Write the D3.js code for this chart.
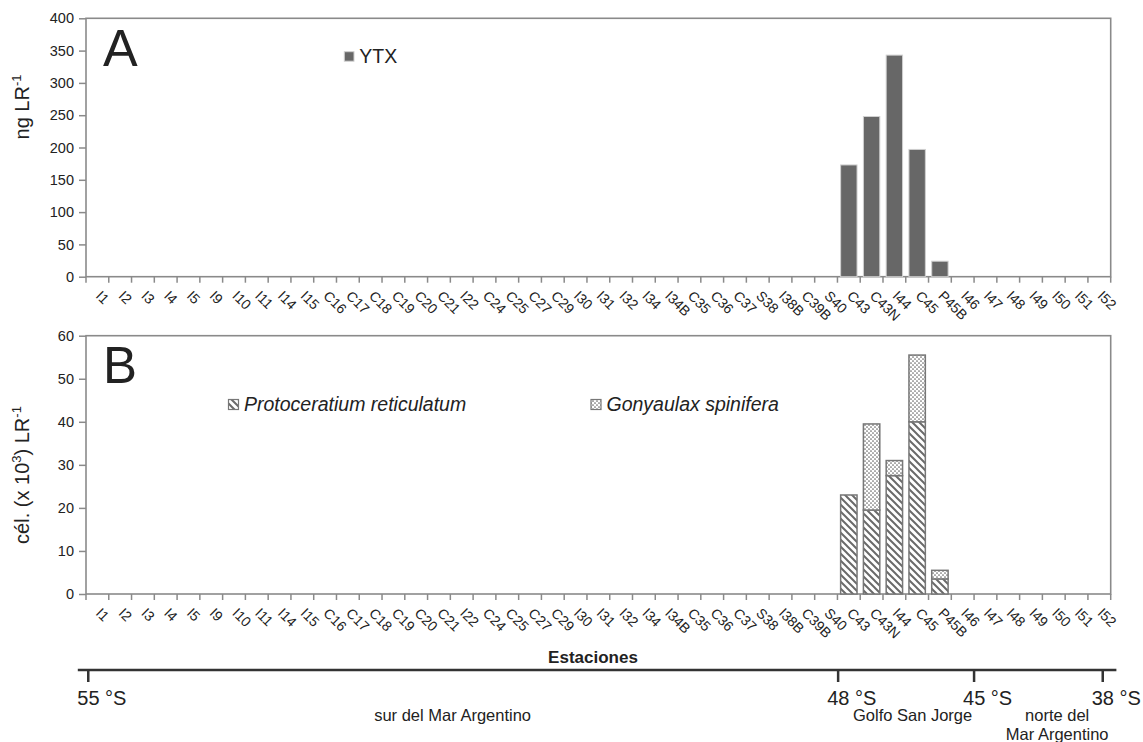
<!DOCTYPE html>
<html>
<head>
<meta charset="utf-8">
<script src="https://cdn.jsdelivr.net/npm/d3@7"></script>
<style>
  body { margin: 0; background: #fff; }
  svg { font-family: "Liberation Sans", Arial, sans-serif; }
</style>
</head>
<body>
<svg id="chart" width="1143" height="742"></svg>
<script>
// stations along the coast, south to north
const stations = ['I1', 'I2', 'I3', 'I4', 'I5', 'I9', 'I10', 'I11', 'I14', 'I15',
  'C16', 'C17', 'C18', 'C19', 'C20', 'C21', 'I22', 'C24', 'C25', 'C27',
  'C29', 'I30', 'I31', 'I32', 'I34', 'I34B', 'C35', 'C36', 'C37', 'S38',
  'I38B', 'C39B', 'S40', 'C43', 'C43N', 'I44', 'C45', 'P45B', 'I46', 'I47',
  'I48', 'I49', 'I50', 'I51', 'I52'];

// panel A: YTX (ng LR-1)
const ytx = [0, 0, 0, 0, 0, 0, 0, 0, 0, 0,
  0, 0, 0, 0, 0, 0, 0, 0, 0, 0,
  0, 0, 0, 0, 0, 0, 0, 0, 0, 0,
  0, 0, 0, 173, 248, 343, 197, 24, 0, 0,
  0, 0, 0, 0, 0];

// panel B: cells (x 10^3) LR-1
const proto = [0, 0, 0, 0, 0, 0, 0, 0, 0, 0,
  0, 0, 0, 0, 0, 0, 0, 0, 0, 0,
  0, 0, 0, 0, 0, 0, 0, 0, 0, 0,
  0, 0, 0, 23, 19.5, 27.5, 40, 3.5, 0, 0,
  0, 0, 0, 0, 0];
const gony = [0, 0, 0, 0, 0, 0, 0, 0, 0, 0,
  0, 0, 0, 0, 0, 0, 0, 0, 0, 0,
  0, 0, 0, 0, 0, 0, 0, 0, 0, 0,
  0, 0, 0, 0, 20, 3.5, 15.5, 2, 0, 0,
  0, 0, 0, 0, 0];

const ytxTicks = [0, 50, 100, 150, 200, 250, 300, 350, 400];
const celTicks = [0, 10, 20, 30, 40, 50, 60];

// latitude bar under the chart, positions given in station units
const latTicks = [
  {label: '55 °S', at: 0.1},
  {label: '48 °S', at: 33.03},
  {label: '45 °S', at: 39.0},
  {label: '38 °S', at: 44.65}
];
const regions = [
  {lines: ['sur del Mar Argentino'], at: 16.1},
  {lines: ['Golfo San Jorge'], at: 36.3},
  {lines: ['norte del', 'Mar Argentino'], at: 42.65}
];

const svg = d3.select('#chart');
const left = 86, right = 1110.7;
const axisColor = '#8a8a8a';
const textColor = '#222';

const x = d3.scaleBand()
  .domain(stations)
  .range([left, right])
  .paddingInner(0.28)
  .paddingOuter(0.14);
const xPos = d3.scaleLinear().domain([0, stations.length]).range([left, right]);

// fill patterns
const defs = svg.append('defs');
const hatch = defs.append('pattern')
  .attr('id', 'hatch')
  .attr('patternUnits', 'userSpaceOnUse')
  .attr('width', 7).attr('height', 7);
hatch.append('rect').attr('width', 7).attr('height', 7).attr('fill', '#fff');
hatch.append('path')
  .attr('d', 'M0,0L7,7M-3.5,3.5L3.5,10.5M3.5,-3.5L10.5,3.5')
  .attr('stroke', '#6a6a6a')
  .attr('stroke-width', 2);

const dots = defs.append('pattern')
  .attr('id', 'dots')
  .attr('patternUnits', 'userSpaceOnUse')
  .attr('width', 4).attr('height', 4);
dots.append('rect').attr('width', 4).attr('height', 4).attr('fill', '#fff');
dots.append('circle').attr('cx', 1).attr('cy', 1).attr('r', 0.85).attr('fill', '#6a6a6a');
dots.append('circle').attr('cx', 3).attr('cy', 3).attr('r', 0.85).attr('fill', '#6a6a6a');

function drawFrame(y, top, bottom, ticks) {
  const g = svg.append('g');

  const yAxis = g.append('g')
    .attr('transform', `translate(${left},0)`)
    .call(d3.axisLeft(y).tickValues(ticks).tickSize(7).tickSizeOuter(0).tickPadding(5));
  yAxis.select('.domain').remove();
  yAxis.selectAll('line').attr('stroke', axisColor).attr('stroke-width', 1.5);
  yAxis.selectAll('text').attr('fill', textColor).style('font-size', '14.5px')
    .style('font-family', '"Liberation Sans", Arial, sans-serif');

  // plot box
  g.append('rect')
    .attr('x', left).attr('y', top)
    .attr('width', right - left).attr('height', bottom - top)
    .attr('fill', 'none')
    .attr('stroke', axisColor)
    .attr('stroke-width', 1.6);

  // ticks between stations
  const bounds = d3.range(stations.length + 1);
  g.selectAll('.xtick')
    .data(bounds)
    .enter()
    .append('line')
    .attr('x1', d => xPos(d)).attr('x2', d => xPos(d))
    .attr('y1', bottom).attr('y2', bottom + 6)
    .attr('stroke', axisColor)
    .attr('stroke-width', 1.5);

  g.selectAll('.xlab')
    .data(stations)
    .enter()
    .append('text')
    .attr('transform', d => `translate(${x(d) + x.bandwidth() / 2 - 2.5},${bottom + 20}) rotate(45)`)
    .attr('fill', textColor)
    .style('font-size', '14px')
    .text(d => d);

  return g;
}

function yTitle(cx, cy, parts) {
  const t = svg.append('text')
    .attr('transform', `translate(${cx},${cy}) rotate(-90)`)
    .attr('text-anchor', 'middle')
    .attr('fill', textColor)
    .style('font-size', '20px');
  parts.forEach(p => {
    t.append('tspan')
      .attr('dy', p.sup ? -8 : (p.after ? 8 : 0))
      .style('font-size', p.sup ? '13px' : '20px')
      .text(p.text);
  });
}

// ---------- panel A ----------
const topA = 18.3, bottomA = 276.7;
const yA = d3.scaleLinear().domain([0, 400]).range([bottomA, topA]);
drawFrame(yA, topA, bottomA, ytxTicks);

svg.append('g')
  .selectAll('rect')
  .data(stations.map((s, i) => ({s, v: ytx[i]})).filter(d => d.v > 0))
  .enter()
  .append('rect')
  .attr('x', d => x(d.s))
  .attr('y', d => yA(d.v))
  .attr('width', x.bandwidth())
  .attr('height', d => yA(0) - yA(d.v))
  .attr('fill', '#676767')
  .attr('stroke', '#d0d0d0')
  .attr('stroke-width', 1);

svg.append('text').attr('x', 103).attr('y', 66)
  .attr('fill', textColor).style('font-size', '52px').text('A');

svg.append('rect').attr('x', 344.3).attr('y', 51.7).attr('width', 9.7).attr('height', 9.5)
  .attr('fill', '#676767').attr('stroke', '#d0d0d0');
svg.append('text').attr('x', 359.3).attr('y', 63.3)
  .attr('fill', textColor).style('font-size', '19.5px').text('YTX');

yTitle(29, 107, [{text: 'ng LR'}, {text: '-1', sup: true}]);

// ---------- panel B ----------
const topB = 335.7, bottomB = 594;
const yB = d3.scaleLinear().domain([0, 60]).range([bottomB, topB]);
drawFrame(yB, topB, bottomB, celTicks);

const stackData = stations.map((s, i) => ({station: s, proto: proto[i], gony: gony[i]}));
const stacked = d3.stack().keys(['proto', 'gony'])(stackData);
const fills = {proto: 'url(#hatch)', gony: 'url(#dots)'};

svg.append('g')
  .selectAll('g')
  .data(stacked)
  .enter()
  .append('g')
  .attr('fill', d => fills[d.key])
  .selectAll('rect')
  .data(d => d.filter(p => p[1] - p[0] > 0))
  .enter()
  .append('rect')
  .attr('x', d => x(d.data.station))
  .attr('y', d => yB(d[1]))
  .attr('width', x.bandwidth())
  .attr('height', d => yB(d[0]) - yB(d[1]))
  .attr('stroke', '#777')
  .attr('stroke-width', 1.5);

svg.append('text').attr('x', 103).attr('y', 383)
  .attr('fill', textColor).style('font-size', '51px').text('B');

const legendB = [
  {name: 'Protoceratium reticulatum', fill: 'url(#hatch)', x: 228.5},
  {name: 'Gonyaulax spinifera', fill: 'url(#dots)', x: 591}
];
legendB.forEach(l => {
  svg.append('rect').attr('x', l.x).attr('y', 399.5).attr('width', 10).attr('height', 10)
    .attr('fill', l.fill).attr('stroke', '#777').attr('stroke-width', 1.2);
  svg.append('text').attr('x', l.x + 15.5).attr('y', 411)
    .attr('fill', textColor).style('font-size', '19.5px').style('font-style', 'italic')
    .text(l.name);
});

yTitle(29, 475, [{text: 'cél. (x 10'}, {text: '3', sup: true}, {text: ') LR', after: true},
  {text: '-1', sup: true}]);

// ---------- latitude bar ----------
svg.append('text').attr('x', 593).attr('y', 663)
  .attr('text-anchor', 'middle').attr('fill', textColor)
  .style('font-size', '17px').style('font-weight', 'bold')
  .text('Estaciones');

svg.append('line')
  .attr('x1', xPos(-0.36)).attr('x2', xPos(45.25))
  .attr('y1', 670).attr('y2', 670)
  .attr('stroke', '#333').attr('stroke-width', 2.5);

const lat = svg.append('g');
lat.selectAll('line')
  .data(latTicks)
  .enter()
  .append('line')
  .attr('x1', d => xPos(d.at)).attr('x2', d => xPos(d.at))
  .attr('y1', 670).attr('y2', 682)
  .attr('stroke', '#333').attr('stroke-width', 2.5);
lat.selectAll('text')
  .data(latTicks)
  .enter()
  .append('text')
  .attr('x', d => xPos(d.at) - 11)
  .attr('y', 705)
  .attr('fill', textColor)
  .style('font-size', '20px')
  .text(d => d.label);

regions.forEach(r => {
  const t = svg.append('text')
    .attr('x', xPos(r.at))
    .attr('y', 721)
    .attr('text-anchor', 'middle')
    .attr('fill', textColor)
    .style('font-size', '16.5px');
  r.lines.forEach((line, i) => {
    t.append('tspan').attr('x', xPos(r.at)).attr('dy', i === 0 ? 0 : 18.5).text(line);
  });
});
</script>
</body>
</html>
